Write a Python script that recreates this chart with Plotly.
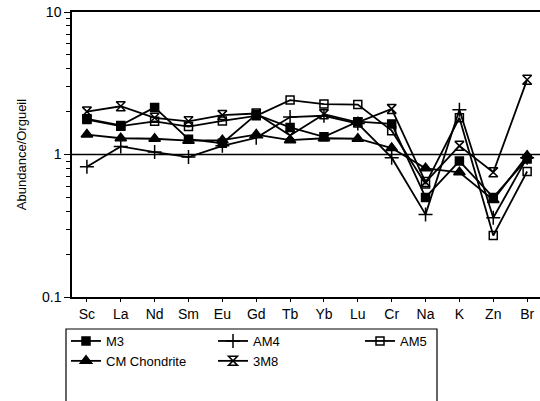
import plotly.graph_objects as go

elements = ["Sc", "La", "Nd", "Sm", "Eu", "Gd", "Tb", "Yb", "Lu", "Cr", "Na", "K", "Zn", "Br"]
m3 = [1.78, 1.60, 2.14, 1.28, 1.20, 1.91, 1.55, 1.33, 1.70, 1.64, 0.50, 0.90, 0.50, 0.93]
am4 = [0.82, 1.14, 1.04, 0.96, 1.15, 1.31, 1.83, 1.87, 1.65, 0.95, 0.38, 2.06, 0.36, 0.95]
am5 = [1.76, 1.58, 1.71, 1.57, 1.72, 1.87, 2.41, 2.26, 2.24, 1.47, 0.62, 1.81, 0.27, 0.76]
cm_chondrite = [1.38, 1.30, 1.29, 1.25, 1.26, 1.38, 1.26, 1.30, 1.29, 1.11, 0.80, 0.75, 0.48, 0.98]
s3m8 = [2.00, 2.18, 1.81, 1.71, 1.89, 1.94, 1.36, 1.92, 1.68, 2.09, 0.64, 1.15, 0.75, 3.35]

series = [
    ("M3", m3, "square", 8),
    ("AM4", am4, "cross-thin", 10),
    ("AM5", am5, "square-open", 8),
    ("CM Chondrite", cm_chondrite, "triangle-up", 10),
    ("3M8", s3m8, "hourglass-open", 9),
]

W, H = 540, 401
L, R, T = 72, 0, 12
ph = 285
B = H - T - ph
pw = W - L - R

fig = go.Figure()
xs = list(range(len(elements)))
for name, vals, sym, size in series:
    fig.add_trace(go.Scatter(
        x=xs, y=vals, name=name, mode="lines+markers",
        line=dict(color="black", width=1.8),
        marker=dict(symbol=sym, size=size, color="black",
                    line=dict(color="black", width=1.5)),
    ))

# reference line at 1
fig.add_shape(type="line", xref="paper", yref="y", x0=0, x1=1, y0=1, y1=1,
              line=dict(color="black", width=1.6))

def px2x(p):
    return (p - L) / pw
def py2y(p):
    return (H - B - p) / ph

# legend frame
fig.add_shape(type="rect", xref="paper", yref="paper",
              x0=px2x(66), x1=px2x(437), y0=py2y(329), y1=py2y(420),
              line=dict(color="black", width=1.2), fillcolor="rgba(0,0,0,0)")

font = "Liberation Sans, Arial, sans-serif"
fig.update_layout(
    width=W, height=H,
    margin=dict(l=L, r=R, t=T, b=B, autoexpand=False),
    paper_bgcolor="white", plot_bgcolor="white",
    font=dict(family=font, size=13, color="black"),
    showlegend=True,
    legend=dict(
        orientation="h", x=px2x(66), y=py2y(326), xanchor="left", yanchor="top",
        entrywidth=102, entrywidthmode="pixels", itemwidth=30,
        font=dict(size=13, family=font), bgcolor="rgba(0,0,0,0)",
        borderwidth=0, tracegroupgap=0,
    ),
    xaxis=dict(
        range=[-0.44, 13.38], tickmode="array", tickvals=xs, ticktext=elements,
        showgrid=False, zeroline=False, showline=True, linecolor="black",
        linewidth=1.5, mirror=True, ticks="outside", ticklen=3, tickcolor="black",
        tickfont=dict(size=14), automargin=False, ticklabeloverflow="allow",
    ),
    yaxis=dict(
        type="log", range=[-1, 1], tickmode="array", tickvals=[0.1, 1, 10],
        ticktext=["0.1", "1", "10"], showgrid=False, zeroline=False,
        showline=True, linecolor="black", linewidth=1.5, ticks="outside",
        ticklen=6, tickcolor="black", tickfont=dict(size=14), automargin=False,
        ticklabeloverflow="allow",
        minor=dict(tickvals=[0.2, 0.3, 0.4, 0.5, 0.6, 0.7, 0.8, 0.9,
                             2, 3, 4, 5, 6, 7, 8, 9],
                   ticks="outside", ticklen=4, tickcolor="black", showgrid=False),
        title=dict(text="Abundance/Orgueil", font=dict(size=13), standoff=12),
    ),
)

fig.write_html("out.html",
               config={"displayModeBar": False},
               post_script="document.body.style.margin='0';document.body.style.overflow='hidden';")
